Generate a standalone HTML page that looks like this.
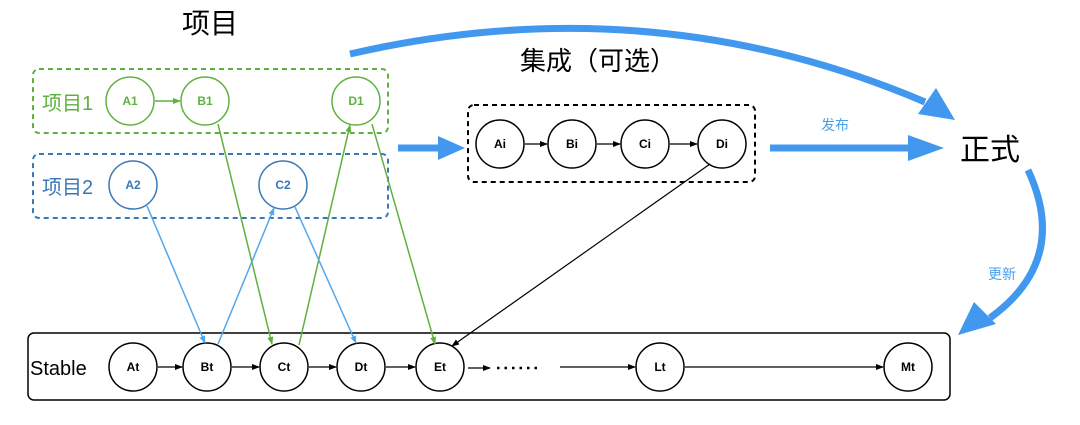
<!DOCTYPE html>
<html><head><meta charset="utf-8"><style>
html,body{margin:0;padding:0;background:#fff;}
svg{display:block;font-family:"Liberation Sans","Noto Sans CJK SC",sans-serif;}
</style></head><body>
<svg width="1080" height="425" viewBox="0 0 1080 425" xmlns="http://www.w3.org/2000/svg">
<defs>
<marker id="ak" markerWidth="8" markerHeight="8" refX="7" refY="4" orient="auto" markerUnits="userSpaceOnUse"><path d="M0,1 L8,4 L0,7z" fill="#000"/></marker>
<marker id="ag" markerWidth="8" markerHeight="8" refX="7" refY="4" orient="auto" markerUnits="userSpaceOnUse"><path d="M0,1 L8,4 L0,7z" fill="#5fb13f"/></marker>
<marker id="ab" markerWidth="8" markerHeight="8" refX="7" refY="4" orient="auto" markerUnits="userSpaceOnUse"><path d="M0,1 L8,4 L0,7z" fill="#4fa7ef"/></marker>
</defs>
<text x="210" y="33" font-size="28" text-anchor="middle">项目</text>
<text x="520" y="70" font-size="26">集成（可选）</text>
<text x="960" y="160" font-size="30">正式</text>
<text x="835" y="130" font-size="14" fill="#4a9fe8" text-anchor="middle">发布</text>
<text x="1002" y="279" font-size="14" fill="#4a9fe8" text-anchor="middle">更新</text>

<path d="M350,54 Q650,-15 925,102" fill="none" stroke="#4298ee" stroke-width="7"/>
<path d="M955,120 L918,114 L936,88z" fill="#4298ee"/>
<line x1="398" y1="148" x2="440" y2="148" stroke="#4298ee" stroke-width="7"/>
<path d="M465,148 L438,136 L438,160z" fill="#4298ee"/>
<line x1="770" y1="148" x2="910" y2="148" stroke="#4298ee" stroke-width="7"/>
<path d="M944,148 L908,135 L908,161z" fill="#4298ee"/>
<path d="M1028,170 Q1070,260 990,318" fill="none" stroke="#4298ee" stroke-width="7"/>
<path d="M958,335 L974,302 L996,324z" fill="#4298ee"/>

<rect x="33" y="69" width="355" height="64" rx="6" fill="none" stroke="#5fb13f" stroke-width="2" stroke-dasharray="5,4"/>
<rect x="33" y="154" width="355" height="64" rx="6" fill="none" stroke="#3a78b5" stroke-width="2" stroke-dasharray="5,4"/>
<rect x="468" y="105" width="287" height="77" rx="6" fill="none" stroke="#000" stroke-width="2" stroke-dasharray="5,4"/>
<rect x="28" y="333" width="922" height="67" rx="6" fill="none" stroke="#000" stroke-width="1.5"/>

<text x="42" y="110" font-size="20" fill="#5fb13f">项目1</text>
<text x="42" y="194" font-size="20" fill="#3a78b5">项目2</text>
<text x="30" y="375" font-size="20">Stable</text>

<g fill="#fff" stroke="#5fb13f" stroke-width="1.5">
<circle cx="130" cy="101" r="24"/><circle cx="205" cy="101" r="24"/><circle cx="356" cy="101" r="24"/>
</g>
<g font-size="12" font-weight="bold" fill="#5fb13f" text-anchor="middle">
<text x="130" y="105">A1</text><text x="205" y="105">B1</text><text x="356" y="105">D1</text>
</g>
<line x1="155" y1="101" x2="180" y2="101" stroke="#5fb13f" stroke-width="1.5" marker-end="url(#ag)"/>

<g fill="#fff" stroke="#3a78b5" stroke-width="1.5">
<circle cx="133" cy="185" r="24"/><circle cx="283" cy="185" r="24"/>
</g>
<g font-size="12" font-weight="bold" fill="#3a78b5" text-anchor="middle">
<text x="133" y="189">A2</text><text x="283" y="189">C2</text>
</g>

<g fill="#fff" stroke="#000" stroke-width="1.5">
<circle cx="500" cy="144" r="24"/><circle cx="572" cy="144" r="24"/><circle cx="645" cy="144" r="24"/><circle cx="722" cy="144" r="24"/>
</g>
<g font-size="12" font-weight="bold" text-anchor="middle">
<text x="500" y="148">Ai</text><text x="572" y="148">Bi</text><text x="645" y="148">Ci</text><text x="722" y="148">Di</text>
</g>
<g stroke="#000" stroke-width="1.2" marker-end="url(#ak)">
<line x1="525" y1="144" x2="547" y2="144"/><line x1="597" y1="144" x2="620" y2="144"/><line x1="670" y1="144" x2="697" y2="144"/>
</g>

<g fill="#fff" stroke="#000" stroke-width="1.5">
<circle cx="133" cy="367" r="24"/><circle cx="207" cy="367" r="24"/><circle cx="284" cy="367" r="24"/><circle cx="361" cy="367" r="24"/><circle cx="440" cy="367" r="24"/><circle cx="660" cy="367" r="24"/><circle cx="908" cy="367" r="24"/>
</g>
<g font-size="12" font-weight="bold" text-anchor="middle">
<text x="133" y="371">At</text><text x="207" y="371">Bt</text><text x="284" y="371">Ct</text><text x="361" y="371">Dt</text><text x="440" y="371">Et</text><text x="660" y="371">Lt</text><text x="908" y="371">Mt</text>
</g>
<g stroke="#000" stroke-width="1.2" marker-end="url(#ak)">
<line x1="158" y1="367" x2="182" y2="367"/><line x1="232" y1="367" x2="259" y2="367"/><line x1="309" y1="367" x2="336" y2="367"/><line x1="386" y1="367" x2="415" y2="367"/><line x1="468" y1="368" x2="490" y2="368"/><line x1="560" y1="367" x2="635" y2="367"/><line x1="685" y1="367" x2="883" y2="367"/>
</g>
<line x1="497" y1="368" x2="540" y2="368" stroke="#000" stroke-width="2.5" stroke-dasharray="2.5,5"/>

<g stroke="#5fb13f" stroke-width="1.5" marker-end="url(#ag)">
<line x1="218" y1="124" x2="272" y2="344"/>
<line x1="299" y1="345" x2="350" y2="125"/>
<line x1="372" y1="124" x2="435" y2="344"/>
</g>
<g stroke="#4fa7ef" stroke-width="1.5" marker-end="url(#ab)">
<line x1="147" y1="206" x2="205" y2="343"/>
<line x1="218" y1="344" x2="274" y2="208"/>
<line x1="295" y1="207" x2="356" y2="343"/>
</g>
<line x1="710" y1="164" x2="452" y2="346" stroke="#000" stroke-width="1.2" marker-end="url(#ak)"/>
</svg>
</body></html>
